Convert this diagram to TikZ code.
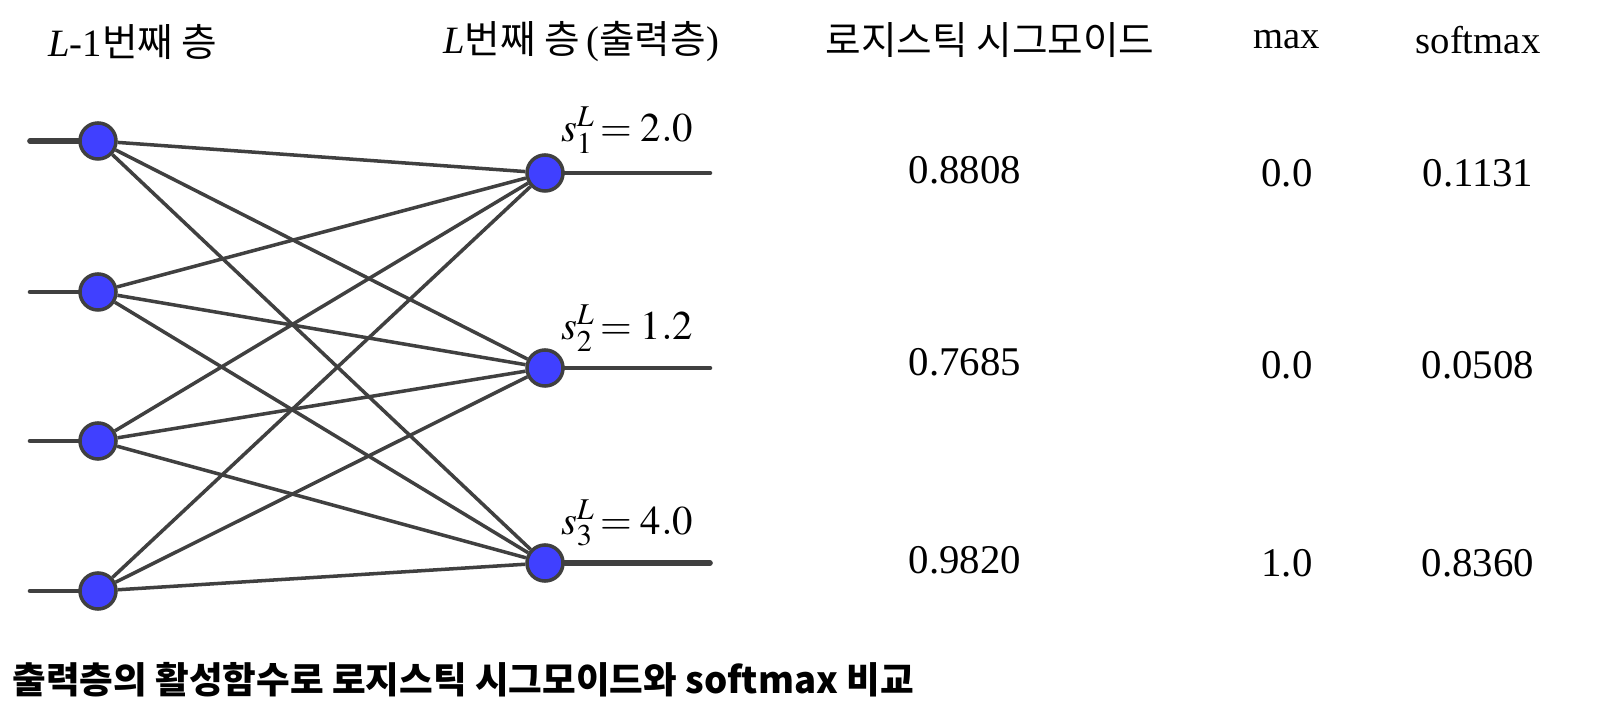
\documentclass[tikz,border=0pt]{standalone}
\usepackage{mathptmx}
\usepackage[no-math]{fontspec}
\setmainfont{Liberation Serif}
\newfontfamily\kr{Noto Sans CJK KR}
\usetikzlibrary{positioning}

\tikzset{
  unit/.style={circle,draw=black!75,line width=1pt,fill=blue!75,minimum size=0.36cm,inner sep=0pt},
  wire/.style={draw=black!75,line width=1pt},
  stub/.style={draw=black!75,line width=1.3pt,line cap=round},
  head/.style={font=\fontsize{11}{13}\selectfont,anchor=center},
  val/.style={font=\fontsize{11.6}{14}\selectfont,anchor=center}
}

\begin{document}
\begin{tikzpicture}[x=0.01cm,y=-0.01cm]
  \useasboundingbox (0,0) rectangle (1604,728);
  % layer L-1
  \foreach \i/\y in {1/141,2/292,3/441,4/591} {
    \node [unit] (h\i) at (98,\y) {};
    \coordinate (in\i) at (30,\y);
  }
  % layer L
  \foreach \j/\y in {1/173,2/368,3/563} {
    \node [unit] (o\j) at (545,\y) {};
    \coordinate (out\j) at (710,\y);
  }
  \foreach \i in {1,...,4}
    \foreach \j in {1,2,3}
      \draw [wire] (h\i) -- (o\j);
  \foreach \i in {1,...,4}
    \draw [stub] (in\i) -- (h\i);
  \foreach \j in {1,2,3}
    \draw [stub] (o\j) -- (out\j);
  \draw [stub,line width=1.6pt] (in1) -- (h1);
  \draw [stub,line width=1.6pt] (o3) -- (out3);
  % labels
  \node [val] (s1) at (627,130) {$s_1^L\!=2.0$};
  \node [val] (s2) at (627,328) {$s_2^L\!=1.2$};
  \node [val] (s3) at (627,523) {$s_3^L\!=4.0$};
  \node [head] (tl1) at (133,42) {\textit{L}-1{\kr 번째 층}};
  \node [head] (tl) at (581,42) {\textit{L}{\kr 번째 층}\,({\kr 출력층})};
  \node [head] (tsig) at (990,40) {\kr 로지스틱 시그모이드};
  \node [head] (tmax) at (1287,40) {max};
  \node [head] (tsoft) at (1478,40) {softmax};
  % values
  \foreach \n/\y/\a/\b/\c in {1/170/0.8808/0.0/0.1131,2/362/0.7685/0.0/0.0508,3/560/0.9820/1.0/0.8360} {
    \node [val] (sig\n) at (965,\y) {\a};
    \node [val] (max\n) at (1287,\y+3) {\b};
    \node [val] (soft\n) at (1478,\y+3) {\c};
  }
  \node [font=\kr\bfseries\fontsize{10.4}{12}\selectfont,anchor=west,inner sep=0pt] (cap) at (12,680) {출력층의 활성함수로 로지스틱 시그모이드와 softmax 비교};
\end{tikzpicture}
\end{document}
